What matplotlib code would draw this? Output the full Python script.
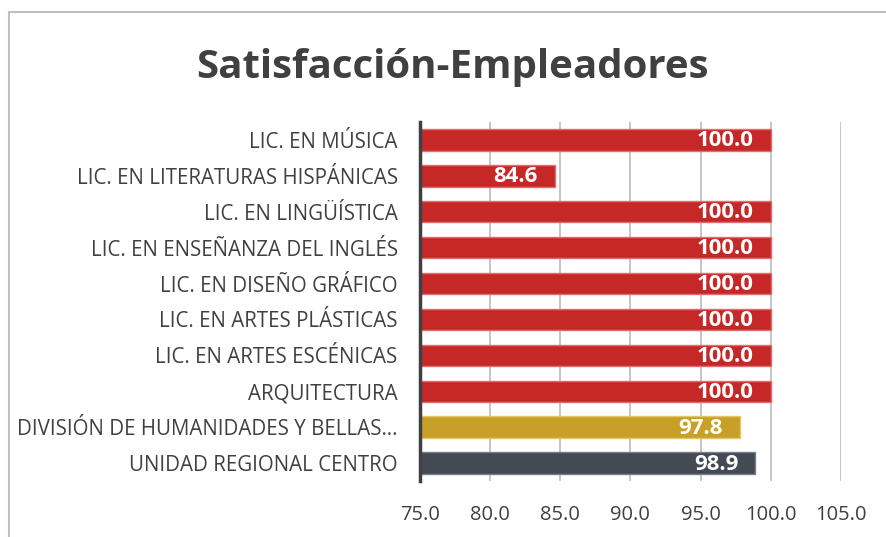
import matplotlib.pyplot as plt
from matplotlib.patches import Rectangle

# Datos
categorias = ["LIC. EN MÚSICA", "LIC. EN LITERATURAS HISPÁNICAS", "LIC. EN LINGÜÍSTICA",
              "LIC. EN ENSEÑANZA DEL INGLÉS", "LIC. EN DISEÑO GRÁFICO",
              "LIC. EN ARTES PLÁSTICAS", "LIC. EN ARTES ESCÉNICAS", "ARQUITECTURA",
              "DIVISIÓN DE HUMANIDADES Y BELLAS…", "UNIDAD REGIONAL CENTRO"]
valores = [100.0, 84.6, 100.0, 100.0, 100.0, 100.0, 100.0, 100.0, 97.8, 98.9]
colores = ["#c62828"] * 8 + ["#c9a027", "#434a54"]
bordes = ["#e07070"] * 8 + ["#e3c56a", "#7a808a"]
ticks_x = [75.0, 80.0, 85.0, 90.0, 95.0, 100.0, 105.0]

fuente = "Open Sans"

fig = plt.figure(figsize=(8.86, 5.37), dpi=100)
ax = fig.add_axes([0.474, 0.104, 0.475, 0.669])

pos = list(range(len(categorias)))
ax.barh(pos, [v - 75 for v in valores], left=75, height=0.6,
        color=colores, edgecolor=bordes, linewidth=1, zorder=3)

for p, v in zip(pos, valores):
    ax.text(v - 1.2, p + 0.03, f"{v:.1f}", ha="right", va="center", color="white",
            fontsize=16, fontweight="bold", family=fuente, zorder=4)

ax.set_xlim(75, 105)
ax.set_ylim(len(categorias) - 0.5, -0.5)
ax.set_xticks(ticks_x)
ax.set_xticklabels([f"{t:.1f}" for t in ticks_x], family=fuente, fontsize=14.5, color="#404040")
ax.set_yticks(pos)
ax.set_yticklabels(categorias, family=fuente, fontsize=14.8, color="#404040")
ax.tick_params(axis="y", length=0, pad=16)
ax.tick_params(axis="x", length=0, pad=17)
ax.grid(axis="x", color="#c0c0c0", linewidth=1.3, zorder=0)
for s in ["top", "right", "bottom"]:
    ax.spines[s].set_visible(False)
ax.spines["left"].set_color("#404040")
ax.spines["left"].set_linewidth(2.5)
ax.spines["left"].set_zorder(5)

fig.text(0.511, 0.874, "Satisfacción-Empleadores", ha="center", va="center",
         fontsize=29, fontweight="bold", family=fuente, color="#404040")

# Borde del gráfico
fig.patches.append(Rectangle((9 / 886, -0.1), 1.2, 1.1 - 12 / 537,
                             transform=fig.transFigure, fill=False,
                             edgecolor="#bfbfbf", linewidth=1.5))

plt.savefig("out.png", dpi=100)
